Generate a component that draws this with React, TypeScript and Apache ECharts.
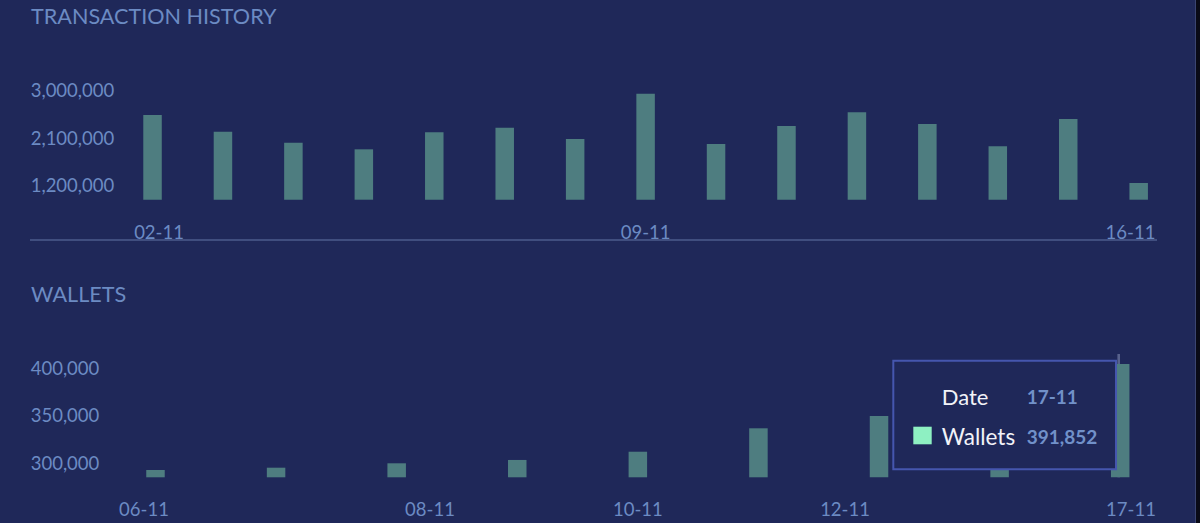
import React, { useEffect, useRef } from "react";
import * as echarts from "echarts";

// ---------- data ----------
const TX_DATES = [
  "02-11", "03-11", "04-11", "05-11", "06-11", "07-11", "08-11", "09-11",
  "10-11", "11-11", "12-11", "13-11", "14-11", "15-11", "16-11",
];
const TX_VALUES = [
  2526000, 2210000, 2001000, 1876000, 2198000, 2286000, 2072000, 2930000,
  1977000, 2318000, 2577000, 2356000, 1933000, 2450000, 1238000,
];
const TX_TICKS = [1200000, 2100000, 3000000];

const WALLET_DATES = [
  "06-11", "07-11", "08-11", "09-11", "10-11", "11-11", "12-11", "15-11", "17-11",
];
const WALLET_VALUES = [293000, 295400, 300000, 303500, 312100, 336600, 349500, 370000, 403900];
const WALLET_TICKS = [300000, 350000, 400000];

const TOOLTIP_DATE = "17-11";
const TOOLTIP_VALUE = 391852;

// ---------- style ----------
const BG = "#1f2859";
const BAR = "#4e7d80";
const LABEL = "#6c8bc3";
const FONT = "Lato, 'Open Sans', sans-serif";
const AXIS_FONT = 18.5;

const fmt = (v: number) => v.toLocaleString("en-US");

// label horizontal nudges (px) by category index
const TX_SHIFT: Record<number, number> = { 0: 6.5, 14: -8.2 };
const WALLET_SHIFT: Record<number, number> = { 0: -11.5, 2: 33.3, 6: -34, 8: 10.8 };

function makeRich(n: number, shifts: Record<number, number>) {
  const rich: Record<string, any> = {};
  for (let i = 0; i < n; i++) {
    const s = shifts[i] || 0;
    rich["s" + i] = {
      color: LABEL,
      fontSize: AXIS_FONT,
      fontFamily: FONT,
      padding: [0, s < 0 ? -2 * s : 0, 0, s > 0 ? 2 * s : 0],
    };
  }
  return rich;
}

export default function App() {
  const ref = useRef<HTMLDivElement>(null);

  useEffect(() => {
    if (!ref.current) return;
    const chart = echarts.init(ref.current, undefined, { renderer: "svg" });

    const txMin = 921500;
    const txMax = 3000000;
    const wMin = 285350;
    const wMax = 414300;

    chart.setOption({
      animation: false,
      backgroundColor: BG,
      textStyle: { fontFamily: FONT },
      title: [
        {
          text: "TRANSACTION HISTORY",
          left: 31,
          top: 4.5,
          padding: 0,
          textStyle: { color: LABEL, fontSize: 21.6, fontWeight: "normal", fontFamily: FONT },
        },
        {
          text: "WALLETS",
          left: 31,
          top: 282.5,
          padding: 0,
          textStyle: { color: LABEL, fontSize: 21.6, fontWeight: "normal", fontFamily: FONT },
        },
      ],
      grid: [
        { left: 117.3, right: 21.1, top: 90, bottom: 523 - 199.7 },
        { left: 95.2, right: 14.5, top: 354, bottom: 523 - 477.3 },
      ],
      xAxis: [
        {
          type: "category",
          gridIndex: 0,
          data: TX_DATES,
          axisLine: { show: false },
          axisTick: { show: false },
          axisLabel: {
            interval: 6,
            margin: 22.5,
            formatter: (v: string, i: number) => `{s${i}|${v}}`,
            rich: makeRich(TX_DATES.length, TX_SHIFT),
            color: LABEL,
            fontSize: AXIS_FONT,
          },
        },
        {
          type: "category",
          gridIndex: 1,
          data: WALLET_DATES,
          axisLine: { show: false },
          axisTick: { show: false },
          axisLabel: {
            interval: 1,
            margin: 22.5,
            formatter: (v: string, i: number) => `{s${i}|${v}}`,
            rich: makeRich(WALLET_DATES.length, WALLET_SHIFT),
            color: LABEL,
            fontSize: AXIS_FONT,
          },
        },
      ],
      yAxis: [
        {
          type: "value",
          gridIndex: 0,
          min: txMin,
          max: txMax,
          splitLine: { show: false },
          axisLine: { show: false },
          axisTick: { show: false },
          axisLabel: {
            customValues: TX_TICKS,
            align: "left",
            margin: 117.3 - 30.7,
            color: LABEL,
            fontSize: AXIS_FONT,
            fontFamily: FONT,
            formatter: (v: number) => fmt(v),
          },
        },
        {
          type: "value",
          gridIndex: 1,
          min: wMin,
          max: wMax,
          splitLine: { show: false },
          axisLine: { show: false },
          axisTick: { show: false },
          axisLabel: {
            customValues: WALLET_TICKS,
            align: "left",
            margin: 95.2 - 30.7,
            color: LABEL,
            fontSize: AXIS_FONT,
            fontFamily: FONT,
            formatter: (v: number) => fmt(v),
          },
        },
      ],
      series: [
        {
          name: "Transactions",
          type: "bar",
          xAxisIndex: 0,
          yAxisIndex: 0,
          data: TX_VALUES,
          barWidth: 18.5,
          itemStyle: { color: BAR },
        },
        {
          name: "Wallets",
          type: "bar",
          xAxisIndex: 1,
          yAxisIndex: 1,
          data: WALLET_VALUES,
          barWidth: 18.5,
          itemStyle: { color: BAR },
        },
      ],
    });

    // place the hover cursor + tooltip at the last wallets bar
    const last = WALLET_DATES.length - 1;
    const pt = chart.convertToPixel({ seriesIndex: 1 }, [last, WALLET_VALUES[last]]) as number[];
    const topY = chart.convertToPixel({ yAxisIndex: 1 }, wMax) as number;
    const botY = chart.convertToPixel({ yAxisIndex: 1 }, wMin) as number;
    const cx = pt[0];
    const boxW = 222.7;
    const boxH = 108.6;
    const boxX = cx - 4.2 - boxW;
    const boxY = topY + 6.7;

    chart.setOption({
      graphic: [
        {
          type: "line",
          z: 0,
          shape: { x1: 30, y1: 240, x2: 1157, y2: 240 },
          style: { stroke: "#4d5b8d", lineWidth: 1.6 },
        },
        {
          type: "line",
          z: 0,
          shape: { x1: cx - 1.5, y1: topY, x2: cx - 1.5, y2: botY },
          style: { stroke: "#58628c", lineWidth: 2.6 },
        },
        {
          type: "group",
          x: boxX,
          y: boxY,
          z: 100,
          children: [
            {
              type: "rect",
              z: 100,
              shape: { x: 0, y: 0, width: boxW, height: boxH },
              style: { fill: BG, stroke: "#4556ae", lineWidth: 2 },
            },
            {
              type: "text",
              z: 101,
              x: 48.4,
              y: 36,
              style: {
                text: "Date",
                fill: "#f2f3f8",
                fontSize: 22,
                fontFamily: FONT,
                verticalAlign: "middle",
                align: "left",
              },
            },
            {
              type: "text",
              z: 101,
              x: 133.4,
              y: 36,
              style: {
                text: TOOLTIP_DATE,
                fill: "#7191c9",
                fontSize: 19,
                fontWeight: "bold",
                fontFamily: FONT,
                verticalAlign: "middle",
                align: "left",
              },
            },
            {
              type: "rect",
              z: 101,
              shape: { x: 20, y: 66, width: 18.4, height: 17.6 },
              style: { fill: "#8ef0c2" },
            },
            {
              type: "text",
              z: 101,
              x: 48.4,
              y: 75.5,
              style: {
                text: "Wallets",
                fill: "#f2f3f8",
                fontSize: 22.5,
                fontFamily: FONT,
                verticalAlign: "middle",
                align: "left",
              },
            },
            {
              type: "text",
              z: 101,
              x: 133.4,
              y: 75.5,
              style: {
                text: fmt(TOOLTIP_VALUE),
                fill: "#7191c9",
                fontSize: 19,
                fontWeight: "bold",
                fontFamily: FONT,
                verticalAlign: "middle",
                align: "left",
              },
            },
          ],
        },
      ],
    });

    return () => {
      chart.dispose();
    };
  }, []);

  return (
    <div
      style={{
        position: "fixed",
        left: 0,
        top: 0,
        width: 1200,
        height: 523,
        background: "#090a17",
        overflow: "hidden",
      }}
    >
      <div ref={ref} style={{ position: "absolute", left: 0, top: 0, width: 1195, height: 523 }} />
      <div
        style={{
          position: "absolute",
          left: 1195,
          top: 0,
          width: 1,
          height: 523,
          background: "#3b4572",
        }}
      />
    </div>
  );
}
